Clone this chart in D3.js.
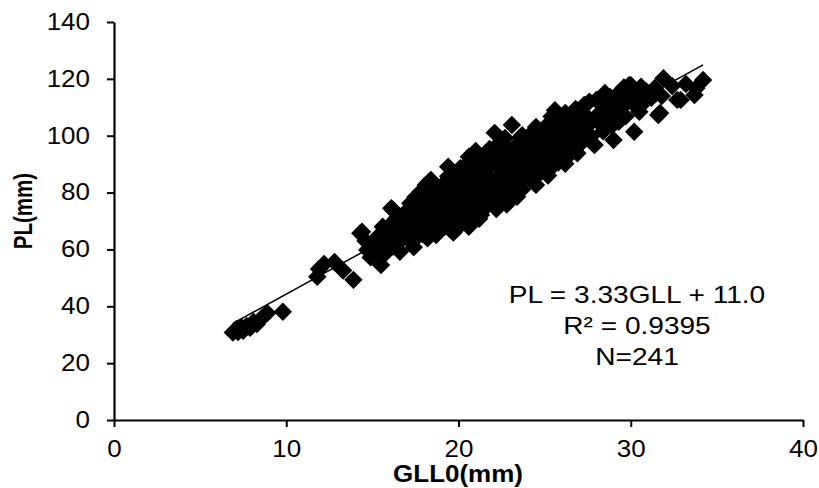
<!DOCTYPE html>
<html>
<head>
<meta charset="utf-8">
<script src="https://cdn.jsdelivr.net/npm/d3@7"></script>
<style>
  body { margin: 0; background: #fff; }
  text { font-family: "Liberation Sans", Arial, sans-serif; fill: #000; }
</style>
</head>
<body>
<div id="chart"></div>
<script>
// GLL0 (mm) vs PL (mm)
var gll = [
  6.9,7.1,7.2,7.4,7.5,7.7,7.9,8.1,8.3,8.6,8.9,9.8,
  11.8,11.9,12.2,12.8,13.3,13.9,
  14.3,14.4,14.6,14.7,14.9,15.0,15.2,15.3,15.5,15.6,15.7,15.8,15.9,16.0,
  16.0,16.1,16.2,16.2,16.3,16.4,16.4,16.5,16.6,16.6,16.7,16.8,16.9,16.9,
  17.1,17.1,17.2,17.2,17.3,17.4,17.4,17.5,17.5,17.6,17.6,17.7,17.8,17.8,17.9,17.9,
  18.0,18.1,18.1,18.2,18.2,18.3,18.3,18.4,18.4,18.5,18.5,18.6,18.6,18.7,18.7,18.8,18.9,18.9,
  19.0,19.1,19.1,19.2,19.2,19.3,19.3,19.4,19.4,19.4,19.5,19.5,19.6,19.6,19.7,19.7,19.8,19.8,19.9,19.9,
  20.0,20.0,20.1,20.1,20.2,20.2,20.3,20.3,20.4,20.4,20.5,20.5,20.5,20.6,20.6,20.7,20.7,20.8,20.8,20.9,20.9,20.9,
  21.0,21.0,21.1,21.1,21.2,21.2,21.3,21.3,21.3,21.4,21.4,21.5,21.5,21.6,21.6,21.7,21.7,21.8,21.8,21.9,21.9,21.9,
  22.0,22.0,22.1,22.1,22.2,22.2,22.3,22.3,22.4,22.4,22.5,22.5,22.6,22.6,22.7,22.7,22.8,22.8,22.9,22.9,
  23.0,23.0,23.1,23.1,23.2,23.3,23.3,23.4,23.5,23.5,23.6,23.6,23.7,23.7,23.8,23.8,23.9,23.9,
  24.0,24.1,24.1,24.2,24.3,24.3,24.4,24.5,24.5,24.6,24.6,24.7,24.8,24.8,24.9,24.9,
  25.0,25.1,25.2,25.2,25.3,25.4,25.4,25.5,25.6,25.6,25.7,25.8,25.8,25.9,
  26.0,26.1,26.2,26.2,26.3,26.4,26.5,26.6,26.7,26.8,26.8,26.9,
  27.0,27.1,27.2,27.2,27.3,27.4,27.5,27.6,27.7,27.8,27.9,27.9,
  28.0,28.1,28.2,28.3,28.4,28.5,28.6,28.7,28.8,28.9,
  29.0,29.1,29.2,29.3,29.4,29.5,29.6,29.7,29.8,29.9,
  30.0,30.1,30.2,30.3,30.5,30.6,30.8,30.9,
  31.2,31.4,31.6,31.7,31.8,31.9,
  32.4,32.7,32.9,33.2,33.7,33.8,34.2
];
var pl = [
  30.8,31.9,30.9,32.6,31.4,33.1,32.4,34.6,33.8,36.0,37.6,38.1,
  50.4,53.1,54.9,55.6,52.6,49.3,
  65.7,66.2,63.0,59.8,57.2,62.0,60.1,64.5,54.5,68.0,58.3,61.5,66.8,63.4,
  68.4,74.5,73.9,61.0,63.2,66.5,71.0,69.8,59.2,62.8,71.5,64.0,67.6,73.0,
  70.2,63.8,66.0,76.2,62.5,74.5,60.8,68.3,78.4,71.8,64.9,77.0,80.3,69.5,65.4,73.1,
  72.4,82.7,67.0,76.8,63.9,83.8,70.3,84.4,79.2,74.0,66.6,68.8,75.9,65.1,81.0,72.0,77.5,69.9,
  80.6,74.2,70.9,68.0,83.1,84.0,78.8,89.1,71.6,85.7,77.8,67.3,82.0,75.4,65.9,80.1,86.2,76.9,73.4,69.2,
  84.5,77.9,71.2,88.6,79.0,69.1,75.1,82.6,87.8,76.5,81.3,71.4,90.1,92.6,68.0,73.9,79.8,84.9,88.4,77.2,70.6,82.3,
  86.0,94.6,80.0,90.5,76.2,70.8,72.1,92.3,88.0,83.4,78.3,74.9,86.9,88.7,82.0,79.1,75.5,95.3,91.0,84.6,77.8,89.9,
  82.4,91.9,101.0,76.6,89.3,74.2,93.9,85.0,79.7,97.6,86.1,80.6,96.7,88.8,83.7,99.2,91.4,75.8,77.9,94.5,
  88.0,93.6,103.8,82.5,95.6,91.2,86.6,78.5,85.6,97.2,99.5,83.5,81.2,100.2,93.4,89.9,87.2,98.7,
  91.4,86.4,97.3,100.6,95.0,84.8,89.6,82.7,103.1,92.7,86.7,98.3,87.3,101.7,94.8,90.2,
  98.2,91.8,104.0,86.0,88.2,96.3,106.8,101.5,109.0,93.4,107.9,99.0,90.6,104.8,
  95.9,102.3,108.0,90.1,92.4,99.2,105.3,96.8,103.1,109.4,100.0,93.8,
  105.6,101.2,97.9,98.5,110.8,107.0,103.4,112.0,99.8,97.3,96.7,106.2,
  112.6,112.0,104.3,108.6,101.6,115.0,106.5,110.4,113.6,103.5,
  98.5,108.0,112.3,104.9,115.6,110.0,117.0,106.8,113.9,117.8,
  117.8,111.5,101.4,114.9,108.4,117.2,111.9,115.6,
  113.3,116.8,107.3,108.0,114.0,120.2,
  117.5,112.6,112.6,118.2,114.3,116.7,119.6
];

var xTicks = [0, 10, 20, 30, 40];
var yTicks = [0, 20, 40, 60, 80, 100, 120, 140];

// trend line from the fit
var slope = 3.33, intercept = 11.0;
var fitLabels = ["PL = 3.33GLL + 11.0", "R\u00b2 = 0.9395", "N=241"];

var width = 819, height = 488,
    stretch = 1.13;

var x = d3.scaleLinear().domain([0, 40]).range([114, 803]),
    y = d3.scaleLinear().domain([0, 140]).range([420, 22]);

var svg = d3.select("#chart").append("svg")
    .attr("width", width)
    .attr("height", height);

var points = gll.map((g, i) => ({x: g, y: pl[i]}));

// markers
var diamond = d3.symbol().type(d3.symbolSquare).size(170);
svg.append("g")
    .selectAll("path")
    .data(points)
    .enter().append("path")
    .attr("d", diamond)
    .attr("transform", d => `translate(${x(d.x)},${y(d.y)}) rotate(45)`)
    .attr("fill", "#000");

// trend line over the data range
var xr = d3.extent(gll);
svg.append("line")
    .attr("x1", x(xr[0])).attr("y1", y(slope * xr[0] + intercept))
    .attr("x2", x(xr[1])).attr("y2", y(slope * xr[1] + intercept))
    .attr("stroke", "#000")
    .attr("stroke-width", 1.5);

// axes
var yAxis = svg.append("g")
    .attr("transform", `translate(${x(0)},0)`)
    .call(d3.axisLeft(y).tickValues(yTicks).tickSize(7).tickPadding(17).tickSizeOuter(0));

var xAxis = svg.append("g")
    .attr("transform", `translate(0,${y(0)})`)
    .call(d3.axisBottom(x).tickValues(xTicks).tickSize(7).tickPadding(14).tickSizeOuter(0));

[xAxis, yAxis].forEach(function(ax) {
    ax.select(".domain").attr("stroke", "#000").attr("stroke-width", 2.2);
    ax.selectAll(".tick line").attr("stroke", "#000").attr("stroke-width", 2);
    ax.selectAll(".tick text")
        .style("font-size", "23px")
        .attr("fill", "#000")
        .each(function() {
            var t = d3.select(this), tx = +t.attr("x") || 0;
            t.attr("x", 0).attr("transform", `translate(${tx},0) scale(${stretch},1)`);
        });
});

// axis titles
svg.append("text")
    .attr("transform", `translate(458,482) scale(${stretch},1)`)
    .attr("text-anchor", "middle")
    .style("font-size", "23px")
    .style("font-weight", "bold")
    .text("GLL0(mm)");

svg.append("text")
    .attr("transform", "translate(32,211) scale(1.25,1) rotate(-90)")
    .attr("text-anchor", "middle")
    .style("font-size", "20.5px")
    .style("font-weight", "bold")
    .text("PL(mm)");

// fit annotation
svg.append("g")
    .selectAll("text")
    .data(fitLabels)
    .enter().append("text")
    .attr("transform", (d, i) => `translate(637,${303 + i * 31}) scale(1.17,1)`)
    .attr("text-anchor", "middle")
    .style("font-size", "24px")
    .text(d => d);
</script>
</body>
</html>
